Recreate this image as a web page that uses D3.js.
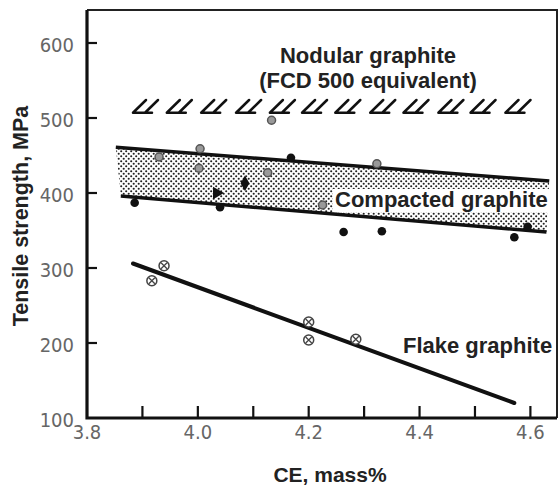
<!DOCTYPE html>
<html>
<head>
<meta charset="utf-8">
<script src="https://cdn.jsdelivr.net/npm/d3@7"></script>
<style>
  body { margin: 0; background: #fff; }
  text { font-family: "Liberation Sans", Arial, sans-serif; }
  .tick-label { font-family: "Liberation Sans Narrow", "DejaVu Sans Condensed", sans-serif; font-size: 20px; fill: #666; }
  .note { font-size: 22px; font-weight: bold; fill: #222; }
</style>
</head>
<body>
<div id="chart"></div>
<script>

// axis ticks
var ceTicks = [3.8, 3.9, 4.0, 4.1, 4.2, 4.3, 4.4, 4.5, 4.6];
var ceLabels = [3.8, 4.0, 4.2, 4.4, 4.6];
var strengthTicks = [100, 200, 300, 400, 500, 600];

// band / fitted lines [CE, MPa]
var compactUpper = [[3.852, 461], [4.634, 416]];
var compactLower = [[3.861, 396], [4.629, 348]];
var flakeLine = [[3.883, 306], [4.571, 120]];

// nodular graphite hatch marks (FCD 500 level)
var nodularCE = [3.883, 3.944, 4.006, 4.069, 4.130, 4.188, 4.248, 4.311, 4.371, 4.434, 4.492, 4.555];
var nodularBase = 507;
var nodularTop = 524;

// measured points
var compactedGrey = [[4.133, 497], [3.930, 448], [4.004, 459], [4.002, 433], [4.126, 427], [4.225, 384], [4.323, 439]];
var compactedBlack = [[3.886, 387], [4.040, 381], [4.168, 447], [4.263, 348], [4.332, 349], [4.571, 341], [4.595, 355]];
var compactedTriangle = [[4.034, 400]];
var compactedDiamond = [[4.085, 413]];
var flakePoints = [[3.917, 283], [3.939, 303], [4.200, 228], [4.200, 204], [4.285, 205]];

var width = 559, height = 489;
var margin = {top: 10, right: 2, bottom: 71, left: 87};

var svg = d3.select("#chart").append("svg")
    .attr("width", width)
    .attr("height", height);

var x = d3.scaleLinear().domain([3.8, 4.648]).range([margin.left, width - margin.right]);
var y = d3.scaleLinear().domain([100, 644]).range([height - margin.bottom, margin.top]);

// dotted fill for the compacted graphite band
var defs = svg.append("defs");
var pat = defs.append("pattern")
    .attr("id", "dots")
    .attr("patternUnits", "userSpaceOnUse")
    .attr("width", 5).attr("height", 5);
pat.append("circle").attr("cx", 1.2).attr("cy", 1.2).attr("r", 1.05).attr("fill", "#222");
pat.append("circle").attr("cx", 3.7).attr("cy", 3.7).attr("r", 1.05).attr("fill", "#222");

var line = d3.line().x(function(d) { return x(d[0]); }).y(function(d) { return y(d[1]); });

// band polygon
var band = compactUpper.concat(compactLower.slice().reverse());
svg.append("path")
    .attr("d", line(band) + "Z")
    .attr("fill", "url(#dots)");

// white box behind the compacted label
svg.append("rect")
    .attr("x", 333).attr("y", 189)
    .attr("width", 220).attr("height", 23)
    .attr("fill", "#fff");

svg.append("path").attr("d", line(compactUpper))
    .attr("stroke", "#111").attr("stroke-width", 3.5).attr("fill", "none");
svg.append("path").attr("d", line(compactLower))
    .attr("stroke", "#111").attr("stroke-width", 3.5).attr("fill", "none");
svg.append("path").attr("d", line(flakeLine))
    .attr("stroke", "#111").attr("stroke-width", 4).attr("fill", "none")
    .attr("stroke-linecap", "round");

// nodular hatch marks
svg.selectAll(".hatch")
    .data(nodularCE)
    .enter().append("path")
    .attr("class", "hatch")
    .attr("d", function(d) {
        var x0 = x(d), yb = y(nodularBase), yt = y(nodularTop);
        return "M" + x0 + "," + yb + "L" + (x0 + 13) + "," + yt +
            "M" + x0 + "," + yb + "L" + (x0 + 19) + "," + yb +
            "M" + (x0 + 12) + "," + yb + "L" + (x0 + 25) + "," + yt;
    })
    .attr("stroke", "#111").attr("stroke-width", 2.5).attr("fill", "none")
    .attr("stroke-linecap", "round");

// frame
var x0 = margin.left, x1 = width - margin.right, y0 = margin.top, y1 = height - margin.bottom;
svg.append("path")
    .attr("d", "M" + x0 + "," + y0 + "L" + x1 + "," + y0 + "L" + x1 + "," + y1)
    .attr("stroke", "#222").attr("stroke-width", 2).attr("fill", "none");
svg.append("path")
    .attr("d", "M" + x0 + "," + y0 + "L" + x0 + "," + y1 + "L" + x1 + "," + y1)
    .attr("stroke", "#111").attr("stroke-width", 3.2).attr("fill", "none");

// ticks (pointing inward)
svg.selectAll(".xtick")
    .data(ceTicks.slice(1))
    .enter().append("line")
    .attr("x1", function(d) { return x(d); }).attr("x2", function(d) { return x(d); })
    .attr("y1", y1).attr("y2", y1 - 12)
    .attr("stroke", "#111").attr("stroke-width", 2.2);

svg.selectAll(".ytick")
    .data(strengthTicks.slice(1))
    .enter().append("line")
    .attr("x1", x0).attr("x2", x0 + 10)
    .attr("y1", function(d) { return y(d); }).attr("y2", function(d) { return y(d); })
    .attr("stroke", "#111").attr("stroke-width", 2.2);

svg.selectAll(".xlab")
    .data(ceLabels)
    .enter().append("text")
    .attr("class", "tick-label")
    .attr("x", function(d) { return x(d); })
    .attr("y", 439)
    .attr("text-anchor", "middle")
    .text(function(d) { return d.toFixed(1); });

svg.selectAll(".ylab")
    .data(strengthTicks)
    .enter().append("text")
    .attr("class", "tick-label")
    .attr("x", 74)
    .attr("y", function(d) { return y(d) + 9; })
    .attr("text-anchor", "end")
    .text(function(d) { return d; });

// markers
svg.selectAll(".grey")
    .data(compactedGrey)
    .enter().append("circle")
    .attr("cx", function(d) { return x(d[0]); })
    .attr("cy", function(d) { return y(d[1]); })
    .attr("r", 4)
    .attr("fill", "#999").attr("stroke", "#555").attr("stroke-width", 1.5);

svg.selectAll(".black")
    .data(compactedBlack)
    .enter().append("circle")
    .attr("cx", function(d) { return x(d[0]); })
    .attr("cy", function(d) { return y(d[1]); })
    .attr("r", 4.3)
    .attr("fill", "#111");

svg.selectAll(".tri")
    .data(compactedTriangle)
    .enter().append("path")
    .attr("transform", function(d) { return "translate(" + x(d[0]) + "," + y(d[1]) + ") rotate(90)"; })
    .attr("d", d3.symbol().type(d3.symbolTriangle).size(70))
    .attr("fill", "#111");

svg.selectAll(".dia")
    .data(compactedDiamond)
    .enter().append("path")
    .attr("transform", function(d) { return "translate(" + x(d[0]) + "," + y(d[1]) + ")"; })
    .attr("d", d3.symbol().type(d3.symbolDiamond).size(70))
    .attr("fill", "#111");

var flake = svg.selectAll(".flake")
    .data(flakePoints)
    .enter().append("g")
    .attr("transform", function(d) { return "translate(" + x(d[0]) + "," + y(d[1]) + ")"; });
flake.append("circle").attr("r", 5)
    .attr("fill", "#fff").attr("stroke", "#444").attr("stroke-width", 1.5);
flake.append("path").attr("d", "M-3,-3L3,3M-3,3L3,-3")
    .attr("stroke", "#444").attr("stroke-width", 1.3);

// annotations
svg.append("text").attr("class", "note")
    .attr("x", 368).attr("y", 63).attr("text-anchor", "middle")
    .text("Nodular graphite");
svg.append("text").attr("class", "note")
    .attr("x", 368).attr("y", 88).attr("text-anchor", "middle")
    .text("(FCD 500 equivalent)");
svg.append("text").attr("class", "note")
    .attr("x", 335).attr("y", 207)
    .text("Compacted graphite");
svg.append("text").attr("class", "note")
    .attr("x", 403).attr("y", 353)
    .text("Flake graphite");

// axis titles
svg.append("text").attr("class", "note")
    .attr("x", 330).attr("y", 482).attr("text-anchor", "middle")
    .style("font-size", "21px")
    .text("CE, mass%");
svg.append("text").attr("class", "note")
    .attr("transform", "translate(28,216) rotate(-90)")
    .attr("text-anchor", "middle")
    .style("font-size", "21.5px")
    .text("Tensile strength, MPa");

</script>
</body>
</html>
